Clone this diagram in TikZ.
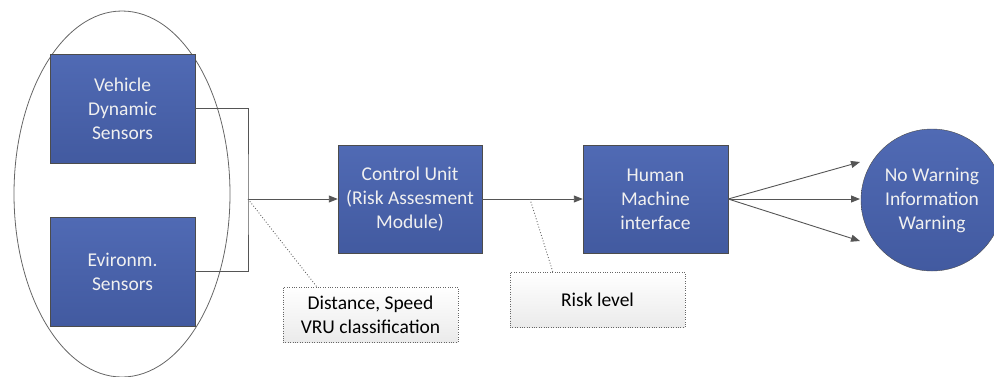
\documentclass[tikz,border=0pt]{standalone}
\usepackage{fontspec}
\setmainfont{Carlito}
\usetikzlibrary{arrows.meta}
\usetikzlibrary{calc}
\usetikzlibrary{positioning}

\definecolor{blkfill}{RGB}{74,99,173}
\definecolor{blktop}{RGB}{80,106,180}
\definecolor{blkbot}{RGB}{66,90,160}
\definecolor{linegray}{RGB}{85,85,85}

\tikzset{
  blk/.style={rectangle,draw=black!70,top color=blktop,bottom color=blkbot,
    text=white!94!black,align=center,minimum width=145pt,minimum height=109pt,
    font=\fontsize{19.5}{24}\selectfont,inner sep=0pt},
  note/.style={rectangle,draw=black!60,dotted,top color=white,bottom color=black!8,
    align=center,minimum width=175pt,minimum height=55pt,
    font=\fontsize{19.5}{24}\selectfont,inner sep=0pt},
  conn/.style={draw=linegray,line width=0.9pt},
  arr/.style={conn,-{Triangle[length=9pt,width=7pt]}},
}

\begin{document}
\begin{tikzpicture}[x=1pt,y=-1pt]
\useasboundingbox (0,0) rectangle (994,376);

% sensor group
\draw[black!60,line width=0.8pt] (122,194) ellipse [x radius=108pt, y radius=183pt];
\node[blk] (vds) at (122.5,108.5) {Vehicle\\Dynamic\\Sensors};
\node[blk] (env) at (122.5,271.5) {Evironm.\\Sensors};

\node[blk,minimum width=144pt,minimum height=108pt] (cu) at (410,199) {Control Unit\\(Risk Assesment\\Module)};
\node[blk,minimum height=108pt] (hmi) at (655.5,199) {Human\\Machine\\interface};
\node[circle,draw=black!70,top color=blktop,bottom color=blkbot,text=white!94!black,
  align=center,minimum size=142pt,inner sep=0pt,font=\fontsize{19.5}{24}\selectfont]
  (out) at (932,200) {No Warning\\Information\\Warning};

% labels
\node[note] (dist) at (370.5,314.5) {Distance, Speed\\VRU classification};
\node[note] (risk) at (597.5,299.5) {Risk level};

\coordinate (jn) at (248,199);
\coordinate (rl) at (530,199);
\coordinate (o1) at (860,162);
\coordinate (o2) at (860,199);
\coordinate (o3) at (860,241);

\draw[conn] (vds.east) -| (jn) |- (env.east);
\draw[arr] (jn) -- (cu.west);
\draw[arr] (cu) -- (hmi);
\foreach \o in {o1,o2,o3}
  \draw[arr] (hmi.east) -- (\o);

\draw[black!60,dotted,line width=0.9pt] (jn) -- ($(dist.north west)+(34,0)$);
\draw[black!60,dotted,line width=0.9pt] (rl) -- ($(risk.north west)+(43,0)$);

\end{tikzpicture}
\end{document}
